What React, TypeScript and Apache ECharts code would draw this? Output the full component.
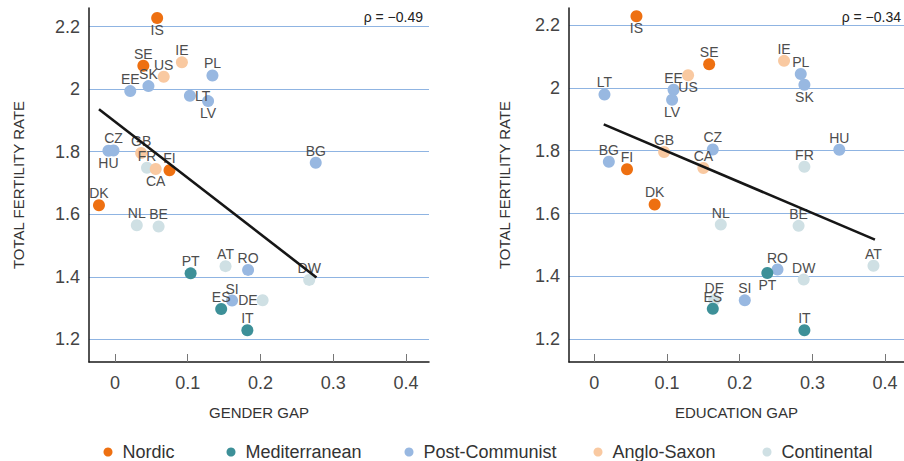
import React, { useEffect, useRef } from "react";
import * as echarts from "echarts";

// ---- Data ----
const countries = ["IS", "SE", "FI", "DK", "PT", "ES", "IT", "SK", "EE", "PL", "LT", "LV", "CZ", "HU", "BG", "RO", "SI", "IE", "US", "GB", "CA", "FR", "NL", "BE", "AT", "DW", "DE"];
const countryRegion = ["Nordic", "Nordic", "Nordic", "Nordic", "Mediterranean", "Mediterranean", "Mediterranean", "Post-Communist", "Post-Communist", "Post-Communist", "Post-Communist", "Post-Communist", "Post-Communist", "Post-Communist", "Post-Communist", "Post-Communist", "Post-Communist", "Anglo-Saxon", "Anglo-Saxon", "Anglo-Saxon", "Anglo-Saxon", "Continental", "Continental", "Continental", "Continental", "Continental", "Continental"];
const totalFertilityRate = [2.228, 2.075, 1.741, 1.629, 1.411, 1.297, 1.229, 2.010, 1.994, 2.044, 1.979, 1.962, 1.804, 1.803, 1.765, 1.422, 1.324, 2.086, 2.040, 1.796, 1.745, 1.749, 1.565, 1.561, 1.434, 1.390, 1.325];
const genderGap = [0.058, 0.039, 0.075, -0.022, 0.104, 0.146, 0.182, 0.046, 0.021, 0.134, 0.103, 0.128, -0.002, -0.009, 0.276, 0.183, 0.161, 0.092, 0.067, 0.036, 0.056, 0.044, 0.030, 0.060, 0.152, 0.267, 0.203];
const educationGap = [0.058, 0.158, 0.045, 0.083, 0.238, 0.163, 0.289, 0.289, 0.109, 0.284, 0.014, 0.107, 0.163, 0.337, 0.020, 0.252, 0.207, 0.261, 0.129, 0.096, 0.150, 0.289, 0.174, 0.281, 0.384, 0.288, 0.165];

const regionNames = ["Nordic", "Mediterranean", "Post-Communist", "Anglo-Saxon", "Continental"];

// fitted lines (end points)
const genderFitX = [-0.022, 0.277];
const genderFitY = [1.936, 1.398];
const educationFitX = [0.013, 0.386];
const educationFitY = [1.884, 1.517];

const rhoGender = "ρ = −0.49";
const rhoEducation = "ρ = −0.34";

const xTickValues = [0, 0.1, 0.2, 0.3, 0.4];
const yTickValues = [1.2, 1.4, 1.6, 1.8, 2, 2.2];

// ---- Styles ----
const regionColors: Record<string, string> = {
  Nordic: "#ee7011",
  Mediterranean: "#3d9098",
  "Post-Communist": "#98b8e1",
  "Anglo-Saxon": "#f9c9a1",
  Continental: "#cfe0e4",
};
const drawOrder = ["Continental", "Anglo-Saxon", "Post-Communist", "Mediterranean", "Nordic"];
const genderLabelPos: Record<string, string> = { IS: "bottom", LT: "right", LV: "bottom", HU: "bottom", CA: "bottom", DE: "left" };
const educationLabelPos: Record<string, string> = { IS: "bottom", SK: "bottom", US: "bottom", LV: "bottom", PT: "bottom" };
const legendLeft = [103.5, 226.5, 404.5, 593.5, 762.5];

const FONT = "Liberation Sans, Arial, Helvetica, sans-serif";

function scatterSeries(panel: number) {
  const xs = panel === 0 ? genderGap : educationGap;
  const posMap = panel === 0 ? genderLabelPos : educationLabelPos;
  return drawOrder.map((region) => ({
    name: region,
    type: "scatter",
    xAxisIndex: panel,
    yAxisIndex: panel,
    symbolSize: 12,
    itemStyle: { color: regionColors[region], opacity: 1 },
    label: {
      show: true,
      formatter: "{b}",
      position: "top",
      distance: -1,
      color: "#4d4d4d",
      fontSize: 14,
      fontFamily: FONT,
    },
    emphasis: { disabled: true },
    data: countries
      .map((c, i) => ({ c, i }))
      .filter(({ i }) => countryRegion[i] === region)
      .map(({ c, i }) => ({
        name: c,
        value: [xs[i], totalFertilityRate[i]],
        label: { position: posMap[c] || "top" },
      })),
  }));
}

function fitSeries(panel: number) {
  const fx = panel === 0 ? genderFitX : educationFitX;
  const fy = panel === 0 ? genderFitY : educationFitY;
  return {
    type: "line",
    xAxisIndex: panel,
    yAxisIndex: panel,
    symbol: "none",
    z: 5,
    lineStyle: { color: "#161616", width: 2.6 },
    emphasis: { disabled: true },
    data: fx.map((x, i) => [x, fy[i]]),
  };
}

function xAxis(panel: number, name: string, min: number, max: number) {
  return {
    type: "value",
    gridIndex: panel,
    min,
    max,
    minInterval: 0.1,
    maxInterval: 0.1,
    name,
    nameLocation: "middle",
    nameGap: 43,
    nameTextStyle: { fontSize: 15, color: "#333", fontFamily: FONT },
    axisLine: { onZero: false, lineStyle: { color: "#1a1a1a", width: 1.5 } },
    axisTick: { show: true, inside: true, length: 8, customValues: xTickValues, lineStyle: { color: "#777", width: 1 } },
    axisLabel: { customValues: xTickValues, margin: 12, fontSize: 18, color: "#444", fontFamily: FONT },
    splitLine: { show: false },
  };
}

function yAxis(panel: number, min: number, max: number, nameGap: number) {
  return {
    type: "value",
    gridIndex: panel,
    min,
    max,
    minInterval: 0.2,
    maxInterval: 0.2,
    name: "TOTAL FERTILITY RATE",
    nameLocation: "middle",
    nameGap,
    nameTextStyle: { fontSize: 15, color: "#333", fontFamily: FONT },
    axisLine: { show: true, onZero: false, lineStyle: { color: "#1a1a1a", width: 1.5 } },
    axisTick: { show: false },
    axisLabel: { customValues: yTickValues, margin: 9, fontSize: 18, color: "#444", fontFamily: FONT },
    splitLine: { show: true, showMinLine: false, showMaxLine: false, lineStyle: { color: "#8fb4e2", width: 1 } },
  };
}

export default function App() {
  const ref = useRef<HTMLDivElement>(null);
  useEffect(() => {
    document.body.style.margin = "0";
    const chart = echarts.init(ref.current!, undefined, { renderer: "svg" });
    const option: any = {
      animation: false,
      backgroundColor: "#ffffff",
      textStyle: { fontFamily: FONT },
      grid: [
        { left: 89, top: 8, width: 340, height: 354 },
        { left: 569, top: 8, width: 335, height: 354 },
      ],
      xAxis: [
        xAxis(0, "GENDER GAP", -0.0357, 0.4317),
        xAxis(1, "EDUCATION GAP", -0.0348, 0.426),
      ],
      yAxis: [yAxis(0, 1.1274, 2.2598, 63), yAxis(1, 1.1278, 2.2541, 57)],
      legend: regionNames.map((r, i) => ({
        data: [r],
        left: legendLeft[i],
        top: 443,
        icon: "circle",
        itemWidth: 19,
        itemHeight: 9,
        selectedMode: false,
        padding: 0,
        textStyle: { fontSize: 18, color: "#333", fontFamily: FONT },
      })),
      graphic: [
        { type: "text", x: 423, y: 17, style: { text: rhoGender, align: "right", verticalAlign: "middle", fill: "#222", font: `14px ${FONT}` } },
        { type: "text", x: 901, y: 17, style: { text: rhoEducation, align: "right", verticalAlign: "middle", fill: "#222", font: `14px ${FONT}` } },
      ],
      series: [...scatterSeries(0), ...scatterSeries(1), fitSeries(0), fitSeries(1)],
    };
    chart.setOption(option);
    return () => chart.dispose();
  }, []);
  return <div ref={ref} style={{ width: 904, height: 461 }} />;
}
